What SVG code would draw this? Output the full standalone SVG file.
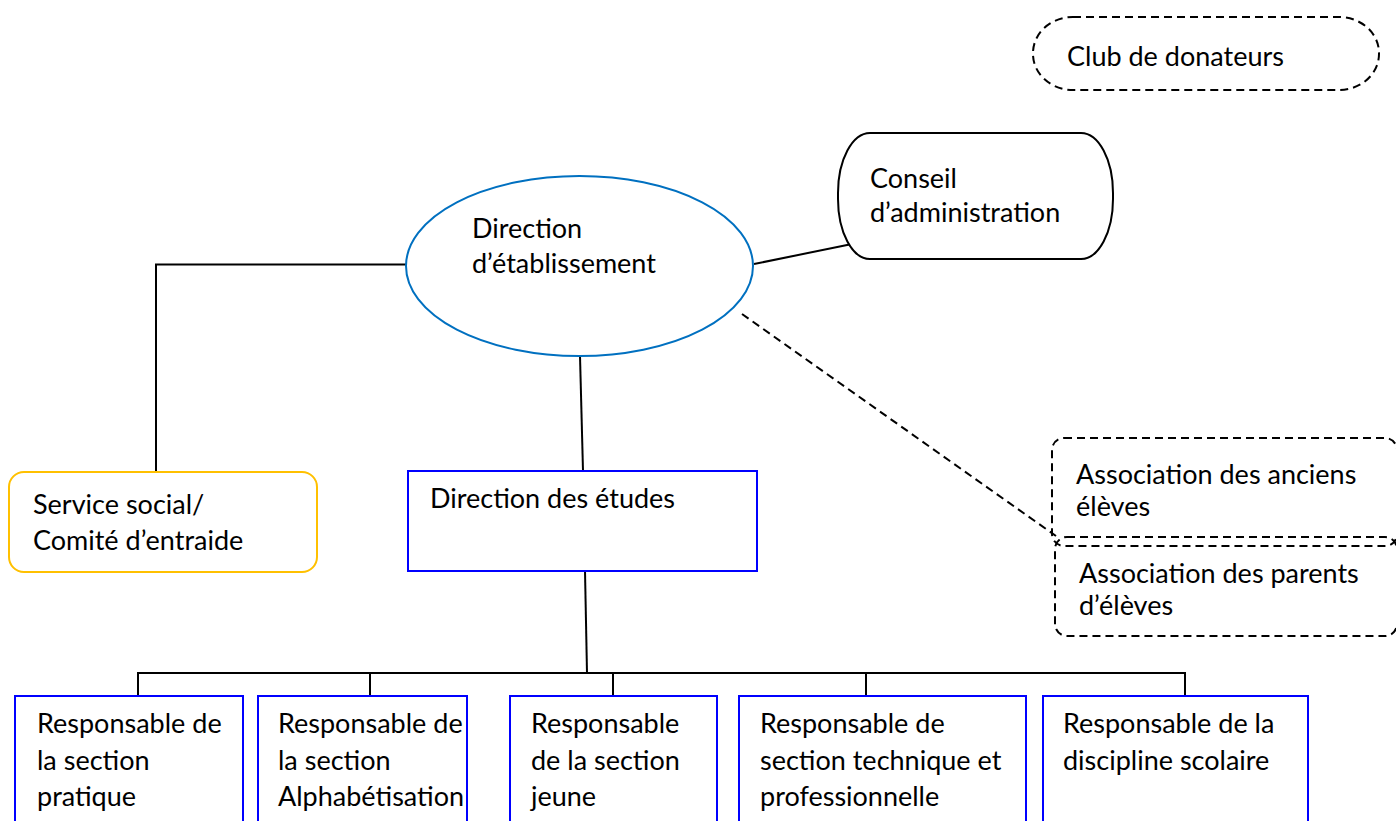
<svg xmlns="http://www.w3.org/2000/svg" width="1396" height="821" viewBox="0 0 1396 821">
<style>
text{font-family:Lato,"Liberation Sans",sans-serif;font-size:27px;fill:#000}
.ln{stroke:#000;stroke-width:2;fill:none}
.dash{stroke:#000;stroke-width:2;fill:none;stroke-dasharray:8 5}
.blue{fill:#fff;stroke:#0000FF;stroke-width:2}
</style>
<rect width="1396" height="821" fill="#fff"/>
<g id="connectors">
<polyline class="ln" points="406,264.5 156,264.5 156,472"/>
<line class="ln" x1="580" y1="356" x2="583" y2="471"/>
<line class="ln" x1="754" y1="264" x2="852" y2="244"/>
<line class="dash" x1="742" y1="314" x2="1056" y2="536"/>
<line class="ln" x1="585" y1="571" x2="587" y2="673"/>
<line class="ln" x1="138" y1="673" x2="1185" y2="673"/>
<line class="ln" x1="138" y1="672" x2="138" y2="696"/>
<line class="ln" x1="370" y1="673" x2="370" y2="696"/>
<line class="ln" x1="613" y1="673" x2="613" y2="696"/>
<line class="ln" x1="866" y1="673" x2="866" y2="696"/>
<line class="ln" x1="1185" y1="672" x2="1185" y2="696"/>
</g>
<g id="club">
<rect class="dash" x="1033" y="17" width="346" height="73" rx="40" ry="36" fill="#fff"/>
<text x="1067" y="66">Club de donateurs</text>
</g>
<g id="direction-etablissement">
<ellipse cx="579.5" cy="266" rx="173.5" ry="90" fill="#fff" stroke="#0070C0" stroke-width="2"/>
<text x="472" y="238">Direction</text>
<text x="472" y="273">d’établissement</text>
</g>
<g id="conseil">
<rect x="838" y="133" width="275" height="126" rx="32" ry="60" fill="#fff" stroke="#000" stroke-width="2"/>
<text x="870" y="188">Conseil</text>
<text x="870" y="222">d’administration</text>
</g>
<g id="service-social">
<rect x="9" y="472" width="308" height="100" rx="15" fill="#fff" stroke="#FFC000" stroke-width="2"/>
<text x="33" y="514">Service social/</text>
<text x="33" y="550">Comité d’entraide</text>
</g>
<g id="direction-etudes">
<rect class="blue" x="408" y="471" width="349" height="100"/>
<text x="430" y="508">Direction des études</text>
</g>
<g id="anciens">
<rect class="dash" x="1052" y="438" width="345" height="108" rx="12" fill="#fff"/>
<text x="1076" y="484">Association des anciens</text>
<text x="1076" y="516">élèves</text>
</g>
<g id="parents">
<rect class="dash" x="1055" y="537" width="342" height="99" rx="12" fill="#fff"/>
<text x="1079" y="583">Association des parents</text>
<text x="1079" y="615">d’élèves</text>
</g>
<g id="resp-pratique">
<rect class="blue" x="15" y="696" width="228" height="140"/>
<text x="37" y="733">Responsable de</text>
<text x="37" y="770">la section</text>
<text x="37" y="806">pratique</text>
</g>
<g id="resp-alpha">
<rect class="blue" x="258" y="696" width="209" height="140"/>
<text x="278" y="733">Responsable de</text>
<text x="278" y="770">la section</text>
<text x="278" y="806">Alphabétisation</text>
</g>
<g id="resp-jeune">
<rect class="blue" x="510" y="696" width="207" height="140"/>
<text x="531" y="733">Responsable</text>
<text x="531" y="770">de la section</text>
<text x="531" y="806">jeune</text>
</g>
<g id="resp-technique">
<rect class="blue" x="739" y="696" width="287" height="140"/>
<text x="760" y="733">Responsable de</text>
<text x="760" y="770">section technique et</text>
<text x="760" y="806">professionnelle</text>
</g>
<g id="resp-discipline">
<rect class="blue" x="1043" y="696" width="265" height="140"/>
<text x="1063" y="733">Responsable de la</text>
<text x="1063" y="770">discipline scolaire</text>
</g>
</svg>
